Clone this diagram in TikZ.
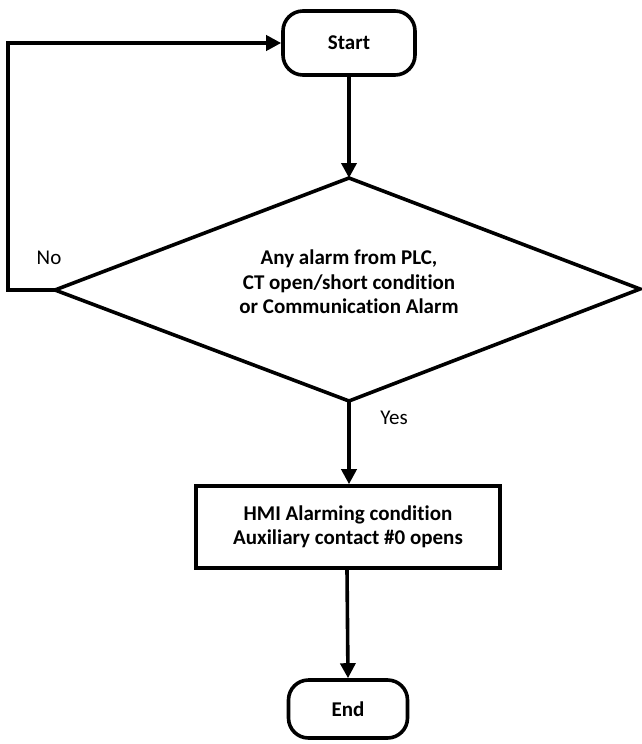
\documentclass[tikz,border=0pt]{standalone}
\usepackage{fontspec}
\setmainfont[Ligatures=NoCommon]{Carlito}
\usetikzlibrary{arrows.meta}
\begin{document}
\begin{tikzpicture}[x=1pt,y=-1pt,
  line width=3.6pt,
  txt/.style={font=\fontsize{21}{24.5}\selectfont\bfseries, align=center},
  term/.style={draw, rounded corners=20pt, minimum width=132pt, minimum height=64pt, txt, inner sep=0pt},
  proc/.style={draw, minimum width=304pt, minimum height=82pt, txt, inner sep=0pt},
  conn/.style={-{Triangle[length=15pt,width=15pt]}, line width=3.6pt},
  lbl/.style={font=\fontsize{21}{24.5}\selectfont}
]
\useasboundingbox (0,0) rectangle (642,744);
\node[term] (start) at (349,43) {Start};
\coordinate (dl) at (55,290);
\coordinate (dt) at (349,178);
\coordinate (dr) at (640,289);
\coordinate (db) at (349,401);
\draw[line join=miter] (dl) -- (dt) -- (dr) -- (db) -- cycle;
\node[txt] (dec) at (349,282) {Any alarm from PLC,\\CT open/short condition\\or Communication Alarm};
\node[proc] (hmi) at (348,527) {HMI Alarming condition\\Auxiliary contact \#0 opens};
\node[term, minimum width=119pt, minimum height=58pt] (end) at (348,709) {End};
\coordinate (c1) at (8,290);
\coordinate (c2) at (8,43);
\draw[conn, line join=miter] (dl) -- (c1) -- (c2) -- (start.west);
\draw[conn] (start.south) -- (dt);
\draw[conn] (db) -- (hmi.north -| db);
\draw[conn] ([xshift=-1pt]hmi.south) -- (end.north);
\node[lbl] (no) at (49,258) {No};
\node[lbl] (yes) at (394,418) {Yes};
\end{tikzpicture}
\end{document}
